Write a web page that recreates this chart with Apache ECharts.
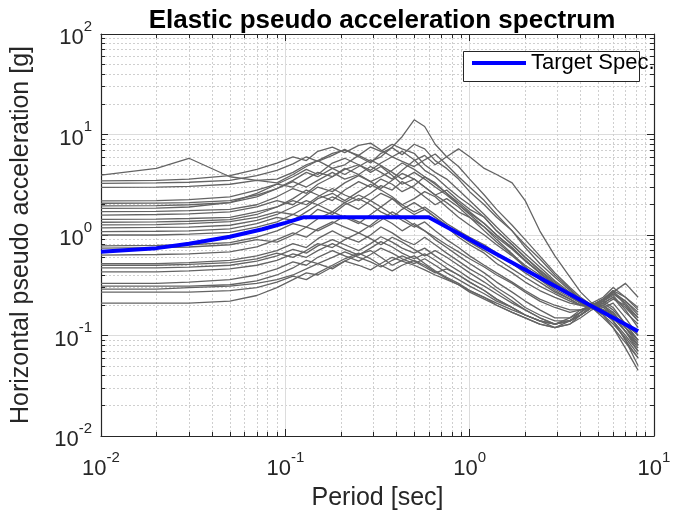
<!DOCTYPE html>
<html>
<head>
<meta charset="utf-8">
<script src="https://cdn.jsdelivr.net/npm/echarts@6/dist/echarts.min.js"></script>
<style>
html,body{margin:0;padding:0;background:#fff;}
#chart{width:675px;height:516px;}
</style>
</head>
<body>
<div id="chart"></div>
<script>
const periods = [0.01,0.02,0.03,0.05,0.07,0.09,0.11,0.13,0.15,0.18,0.21,0.25,0.29,0.33,0.38,0.43,0.5,0.57,0.65,0.75,0.87,1.0,1.2,1.4,1.7,2.0,2.4,2.9,3.5,4.0,4.6,5.3,6.0,7.0,8.2];

const rec01 = [3.95,4.6,5.8,3.8,3.5,3.6,4.2,5.0,5.5,6.5,7.0,6.2,7.5,6.8,8.0,7.2,6.5,5.0,4.2,3.6,2.8,2.2,1.6,1.2,0.85,0.65,0.48,0.35,0.27,0.23,0.2,0.22,0.25,0.18,0.12];
const rec02 = [3.45,3.5,3.6,3.9,4.5,5.2,6.0,5.5,6.8,7.5,6.6,7.8,8.2,7.0,6.0,6.8,5.6,4.4,3.8,3.0,2.4,2.0,1.5,1.1,0.8,0.6,0.45,0.34,0.26,0.22,0.19,0.2,0.16,0.11,0.08];
const rec03 = [3.27,3.3,3.35,3.5,3.9,4.4,5.1,6.0,5.4,6.2,7.1,6.0,5.2,6.5,7.4,6.3,8.0,7.2,5.5,4.6,3.6,2.7,2.0,1.5,1.1,0.75,0.52,0.38,0.28,0.23,0.2,0.19,0.21,0.15,0.1];
const rec04 = [2.98,3.0,3.05,3.2,3.5,3.3,4.0,4.8,5.5,4.6,5.0,6.2,5.4,6.0,7.5,9.5,14.0,12.0,8.0,6.0,4.8,3.6,2.5,1.8,1.25,0.9,0.62,0.42,0.3,0.24,0.2,0.23,0.28,0.2,0.14];
const rec05 = [2.19,2.2,2.25,2.4,2.8,3.2,3.0,3.6,4.2,3.8,4.5,5.0,4.4,5.2,6.0,5.4,4.8,5.6,6.4,5.0,3.8,3.0,2.2,1.6,1.1,0.8,0.58,0.4,0.29,0.23,0.2,0.18,0.17,0.12,0.085];
const rec06 = [2.07,2.08,2.1,2.2,2.5,2.9,3.4,3.0,3.5,4.2,3.6,4.0,4.8,4.2,3.6,4.4,5.5,6.2,5.0,6.0,7.2,6.0,4.6,4.0,3.3,2.2,1.1,0.62,0.38,0.27,0.21,0.18,0.14,0.09,0.06];
const rec07 = [1.84,1.85,1.9,2.1,2.6,3.2,3.8,4.5,4.0,5.2,5.8,5.0,4.2,4.8,3.9,3.2,3.6,3.0,2.5,2.1,1.7,1.5,1.2,0.95,0.72,0.55,0.42,0.32,0.25,0.21,0.19,0.21,0.24,0.17,0.13];
const rec08 = [1.71,1.72,1.75,1.8,2.0,2.4,2.9,2.6,3.2,3.8,4.6,4.0,3.4,3.8,4.4,5.2,4.5,3.8,3.2,2.6,2.0,1.6,1.2,0.9,0.65,0.48,0.36,0.28,0.23,0.2,0.2,0.22,0.19,0.13,0.09];
const rec09 = [1.58,1.6,1.62,1.7,1.9,2.2,2.0,2.5,3.0,2.7,3.3,3.9,3.4,2.9,3.5,4.1,3.6,3.0,2.5,2.8,2.2,1.8,1.5,1.1,0.8,0.6,0.44,0.33,0.26,0.22,0.2,0.17,0.15,0.11,0.075];
const rec10 = [1.43,1.44,1.46,1.5,1.7,1.9,2.3,2.8,2.5,2.2,2.8,3.4,3.0,3.6,3.2,2.7,3.1,3.8,3.3,2.6,2.1,1.7,1.3,1.0,0.75,0.56,0.42,0.32,0.25,0.21,0.19,0.2,0.23,0.2,0.15];
const rec11 = [1.34,1.35,1.37,1.42,1.6,1.9,2.2,2.0,2.4,2.9,2.5,2.2,2.6,3.1,2.8,3.4,2.9,2.4,2.0,2.3,1.9,1.5,1.1,0.85,0.64,0.5,0.4,0.31,0.25,0.21,0.2,0.18,0.16,0.12,0.09];
const rec12 = [1.26,1.27,1.3,1.36,1.5,1.7,1.6,1.9,2.3,2.6,2.2,2.7,3.2,2.8,2.4,2.0,2.3,2.7,2.4,1.9,1.5,1.25,1.0,0.8,0.62,0.48,0.37,0.29,0.24,0.21,0.19,0.22,0.26,0.22,0.16];
const rec13 = [1.18,1.19,1.2,1.25,1.4,1.6,1.9,2.2,2.0,1.7,2.1,2.5,2.2,1.9,2.3,2.0,1.7,1.9,1.6,1.3,1.1,0.95,0.8,0.66,0.52,0.42,0.34,0.27,0.23,0.2,0.19,0.16,0.13,0.095,0.065];
const rec14 = [1.08,1.09,1.1,1.15,1.3,1.5,1.4,1.7,2.0,2.4,2.1,1.8,2.2,2.6,2.3,1.9,1.6,1.8,1.5,1.25,1.0,0.85,0.7,0.58,0.46,0.38,0.31,0.26,0.22,0.2,0.2,0.23,0.28,0.24,0.18];
const rec15 = [1.0,1.0,1.02,1.06,1.2,1.35,1.6,1.45,1.8,1.6,2.0,2.3,2.0,1.7,1.5,1.8,2.1,1.8,1.5,1.2,0.95,0.8,0.66,0.52,0.42,0.34,0.28,0.24,0.21,0.2,0.19,0.15,0.12,0.085,0.06];
const rec16 = [0.78,0.79,0.8,0.84,0.95,1.1,1.3,1.2,1.45,1.7,1.5,1.3,1.6,1.9,1.6,1.4,1.2,1.35,1.1,0.9,0.75,0.62,0.5,0.42,0.34,0.28,0.23,0.2,0.18,0.18,0.19,0.21,0.24,0.19,0.14];
const rec17 = [0.74,0.75,0.76,0.8,0.9,0.85,1.0,1.2,1.1,1.3,1.55,1.35,1.2,1.4,1.7,1.5,1.25,1.1,0.95,0.8,0.68,0.58,0.48,0.4,0.33,0.27,0.22,0.19,0.17,0.18,0.2,0.18,0.15,0.11,0.08];
const rec18 = [0.63,0.64,0.65,0.68,0.76,0.9,1.05,0.95,1.15,1.35,1.2,1.05,1.25,1.5,1.3,1.1,1.3,1.1,0.9,0.75,0.62,0.52,0.42,0.34,0.27,0.22,0.18,0.15,0.15,0.17,0.2,0.22,0.26,0.21,0.15];
const rec19 = [0.52,0.52,0.53,0.56,0.62,0.7,0.82,0.75,0.92,1.1,0.95,0.85,1.0,1.2,1.05,0.9,0.8,0.95,0.8,0.66,0.55,0.46,0.38,0.3,0.24,0.19,0.16,0.14,0.14,0.16,0.19,0.2,0.17,0.12,0.08];
const rec20 = [0.5,0.5,0.51,0.53,0.58,0.66,0.6,0.7,0.82,0.75,0.9,1.05,0.92,0.8,0.95,0.85,0.72,0.62,0.7,0.6,0.5,0.42,0.34,0.28,0.22,0.18,0.15,0.13,0.14,0.17,0.21,0.19,0.16,0.13,0.1];
const rec21 = [0.47,0.47,0.48,0.5,0.55,0.62,0.72,0.66,0.78,0.9,0.8,0.7,0.82,0.96,0.85,0.74,0.66,0.74,0.62,0.52,0.44,0.37,0.31,0.26,0.21,0.18,0.15,0.13,0.14,0.16,0.2,0.23,0.27,0.22,0.17];
const rec22 = [0.43,0.43,0.44,0.46,0.5,0.56,0.65,0.6,0.7,0.82,0.72,0.63,0.74,0.86,0.76,0.66,0.58,0.65,0.56,0.47,0.4,0.34,0.28,0.23,0.19,0.16,0.14,0.12,0.13,0.15,0.18,0.2,0.16,0.11,0.07];
const rec23 = [0.33,0.33,0.34,0.36,0.4,0.46,0.54,0.5,0.6,0.7,0.62,0.55,0.64,0.74,0.66,0.58,0.52,0.58,0.5,0.42,0.36,0.31,0.26,0.22,0.19,0.16,0.14,0.13,0.14,0.16,0.19,0.17,0.14,0.1,0.07];
const rec24 = [0.31,0.31,0.31,0.32,0.35,0.4,0.47,0.56,0.52,0.46,0.55,0.64,0.7,0.6,0.5,0.56,0.62,0.52,0.44,0.38,0.33,0.28,0.24,0.2,0.17,0.15,0.13,0.12,0.14,0.17,0.21,0.24,0.3,0.24,0.19];
const rec25 = [0.29,0.29,0.3,0.31,0.33,0.36,0.4,0.46,0.52,0.6,0.68,0.6,0.54,0.48,0.56,0.62,0.55,0.48,0.42,0.46,0.4,0.34,0.28,0.23,0.19,0.16,0.14,0.13,0.15,0.18,0.2,0.17,0.14,0.09,0.05];
const rec26 = [0.27,0.27,0.27,0.28,0.3,0.34,0.39,0.36,0.42,0.5,0.58,0.66,0.58,0.5,0.44,0.5,0.56,0.5,0.43,0.37,0.32,0.27,0.23,0.2,0.17,0.15,0.13,0.12,0.13,0.16,0.19,0.22,0.27,0.33,0.24];
const rec27 = [0.21,0.21,0.21,0.22,0.25,0.3,0.36,0.42,0.4,0.48,0.55,0.5,0.45,0.52,0.6,0.55,0.5,0.45,0.4,0.36,0.32,0.28,0.24,0.21,0.18,0.16,0.14,0.13,0.14,0.16,0.19,0.21,0.18,0.13,0.09];
const rec28 = [1.95,1.96,2.0,2.1,2.4,2.9,3.5,4.2,3.8,4.6,4.0,4.8,5.6,4.9,4.2,3.6,4.2,3.6,3.0,2.5,2.0,1.65,1.3,1.0,0.74,0.56,0.42,0.32,0.25,0.21,0.19,0.16,0.12,0.075,0.045];

const records = [rec01,rec02,rec03,rec04,rec05,rec06,rec07,rec08,rec09,rec10,rec11,rec12,rec13,rec14,rec15,rec16,rec17,rec18,rec19,rec20,rec21,rec22,rec23,rec24,rec25,rec26,rec27,rec28];

const targetPeriods = [0.01,0.02,0.03,0.05,0.075,0.1,0.125,0.6,1.0,2.0,4.5,8.2];
const targetSa = [0.68,0.74,0.82,0.96,1.14,1.32,1.5,1.5,0.9,0.45,0.2,0.11];

const titleText = 'Elastic pseudo acceleration spectrum';
const xName = 'Period [sec]';
const yName = 'Horizontal pseudo acceleration [g]';
const legendName = 'Target Spec.';

const FONT = 'Liberation Sans, Arial, Helvetica, sans-serif';
const AX = '#262626';

function powLabel(v){
  const e = Math.round(Math.log10(v));
  return '{b|10}{s|' + e + '}';
}
const rich = {
  b:{fontSize:22,fontFamily:FONT,color:AX,lineHeight:30,verticalAlign:'bottom'},
  s:{fontSize:15,fontFamily:FONT,color:AX,lineHeight:30,verticalAlign:'top'}
};

function baseAxis(extra){
  return Object.assign({
    type:'log', logBase:10,
    axisLine:{show:true,onZero:false,lineStyle:{color:AX,width:1.2}},
    axisTick:{show:true,inside:true,length:7,lineStyle:{color:AX,width:1}},
    minorTick:{show:true,splitNumber:9,length:4,lineStyle:{color:AX,width:1}},
    splitLine:{show:false},
    minorSplitLine:{show:false}
  }, extra);
}

const series = [];
records.forEach((r,k)=>{
  series.push({
    type:'line', name:'rec'+(k+1), xAxisIndex:0, yAxisIndex:0,
    data: periods.map((p,i)=>[p,r[i]]),
    showSymbol:false, symbol:'none', silent:true,
    lineStyle:{color:'#646464',width:1.3},
    z:3
  });
});
series.push({
  type:'line', name:legendName, xAxisIndex:0, yAxisIndex:0,
  data: targetPeriods.map((p,i)=>[p,targetSa[i]]),
  showSymbol:false, symbol:'none',
  lineStyle:{color:'#0000ff',width:4},
  itemStyle:{color:'#0000ff'},
  z:5
});

const chart = echarts.init(document.getElementById('chart'),null,{renderer:'canvas'});
chart.setOption({
  backgroundColor:'#ffffff',
  animation:false,
  title:{text:titleText,left:377,textAlign:'center',top:3,textStyle:{fontFamily:FONT,fontSize:26,fontWeight:'bold',color:'#000'}},
  grid:{left:101,right:21,top:34,bottom:80,containLabel:false},
  legend:{
    data:[{name:legendName,icon:'rect'}],
    left:472, top:52, itemWidth:54, itemHeight:4, itemGap:4,
    textStyle:{fontFamily:FONT,fontSize:22,color:'#000'},
    padding:0, z:20
  },
  graphic:[{type:'rect',left:463,top:51,shape:{width:176,height:30},style:{fill:'#fff',stroke:'#262626',lineWidth:1},z:1}],
  xAxis:[
    baseAxis({position:'bottom',min:0.01,max:10,
      name:xName,nameLocation:'middle',nameGap:50,
      nameTextStyle:{fontFamily:FONT,fontSize:25,color:AX},
      axisLabel:{show:true,margin:14,formatter:powLabel,rich:rich},
      splitLine:{show:true,lineStyle:{color:'#dcdcdc',width:1,type:'solid'}},
      minorSplitLine:{show:true,lineStyle:{color:'#cfcfcf',width:1,type:[2,2]}}
    }),
    baseAxis({position:'top',min:0.01,max:10,axisLabel:{show:false}})
  ],
  yAxis:[
    baseAxis({position:'left',min:0.01,max:100,
      name:yName,nameLocation:'middle',nameGap:67,
      nameTextStyle:{fontFamily:FONT,fontSize:25,color:AX},
      axisLabel:{show:true,margin:9,formatter:powLabel,rich:rich},
      splitLine:{show:true,lineStyle:{color:'#dcdcdc',width:1,type:'solid'}},
      minorSplitLine:{show:true,lineStyle:{color:'#cfcfcf',width:1,type:[2,2]}}
    }),
    baseAxis({position:'right',min:0.01,max:100,axisLabel:{show:false}})
  ],
  series:series
});
</script>
</body>
</html>
